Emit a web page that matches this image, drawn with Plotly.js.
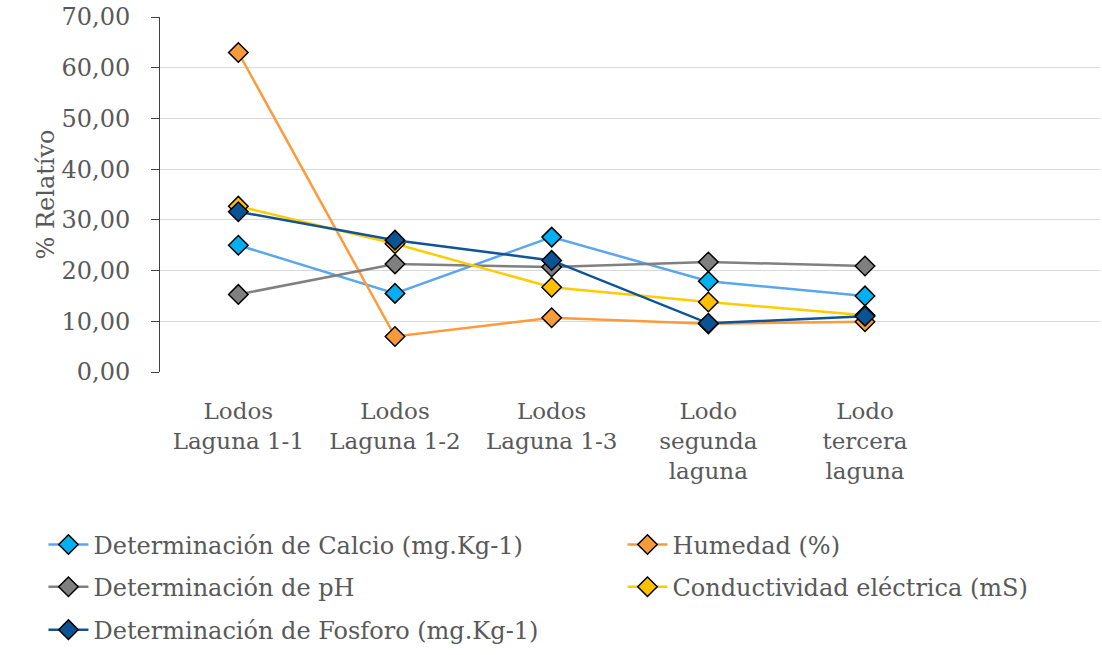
<!DOCTYPE html>
<html>
<head>
<meta charset="utf-8">
<script src="https://cdn.plot.ly/plotly-3.0.1.min.js"></script>
<style>html,body{margin:0;padding:0;background:#fff;}#chart{width:1102px;height:655px;}</style>
</head>
<body>
<div id="chart"></div>
<script>
var categories = ["Lodos<br>Laguna 1-1", "Lodos<br>Laguna 1-2", "Lodos<br>Laguna 1-3", "Lodo<br>segunda<br>laguna", "Lodo<br>tercera<br>laguna"];
var seriesNames = ["Determinación de Calcio (mg.Kg-1)", "Humedad (%)", "Determinación de pH", "Conductividad eléctrica (mS)", "Determinación de Fosforo (mg.Kg-1)"];
var calcio = [25.0, 15.5, 26.6, 17.9, 15.0];
var humedad = [63.0, 7.0, 10.7, 9.5, 9.9];
var ph = [15.3, 21.3, 20.7, 21.7, 20.9];
var conductividad = [32.7, 25.3, 16.7, 13.8, 11.2];
var fosforo = [31.6, 26.0, 22.0, 9.6, 11.0];
var yTicks = [0, 10, 20, 30, 40, 50, 60, 70];

var lineColors = ["#5BA7EE", "#FF9A3C", "#808080", "#FFCC00", "#0F5496"];
var markerColors = ["#00B0F0", "#F79A3A", "#7F7F7F", "#FFC000", "#0B5394"];
var values = [calcio, humedad, ph, conductividad, fosforo];
var legendIds = ["legend", "legend2", "legend3", "legend4", "legend5"];

var traces = values.map(function(v, i) {
  return {
    type: "scatter",
    mode: "lines+markers",
    name: seriesNames[i],
    legend: legendIds[i],
    x: categories,
    y: v,
    line: {color: lineColors[i], width: 2.5},
    marker: {symbol: "diamond", size: 15, color: markerColors[i], line: {color: "#000", width: 1.5}}
  };
});

var fontFam = "DejaVu Serif, serif";
var legFont = {family: fontFam, size: 24, color: "#595959"};
function leg(x, y) {
  return {x: x, xanchor: "left", y: y, yanchor: "middle", font: legFont, itemwidth: 40, bgcolor: "rgba(0,0,0,0)"};
}
var colL = -0.124, colR = 0.492;
var rowY = [-0.487, -0.606, -0.727];

var layout = {
  width: 1102, height: 655,
  margin: {l: 160, r: 2, t: 17, b: 283, autoexpand: false},
  paper_bgcolor: "#fff", plot_bgcolor: "#fff",
  separators: ",.",
  showlegend: true,
  font: {family: fontFam, color: "#595959", size: 23},
  xaxis: {
    type: "category",
    categoryorder: "array",
    categoryarray: categories,
    range: [-0.5, 5.5],
    showgrid: false,
    showline: false,
    zeroline: false,
    ticks: "",
    ticklabelstandoff: 23,
    tickfont: {family: fontFam, size: 23, color: "#595959"},
    fixedrange: true
  },
  yaxis: {
    range: [0, 70],
    tickvals: yTicks,
    tickformat: ".2f",
    showgrid: true,
    gridcolor: "#D9D9D9",
    gridwidth: 1,
    zeroline: false,
    showline: true,
    linecolor: "#404040",
    linewidth: 1,
    ticks: "outside",
    ticklen: 8,
    tickcolor: "#404040",
    ticklabelstandoff: 16,
    tickfont: {family: fontFam, size: 24, color: "#595959"},
    title: {text: "% Relatívo", font: {family: fontFam, size: 24, color: "#595959"}, standoff: 0},
    fixedrange: true
  },
  legend: leg(colL, rowY[0]),
  legend2: leg(colR, rowY[0]),
  legend3: leg(colL, rowY[1]),
  legend4: leg(colR, rowY[1]),
  legend5: leg(colL, rowY[2])
};

Plotly.newPlot("chart", traces, layout, {displayModeBar: false, staticPlot: true});
</script>
</body>
</html>
